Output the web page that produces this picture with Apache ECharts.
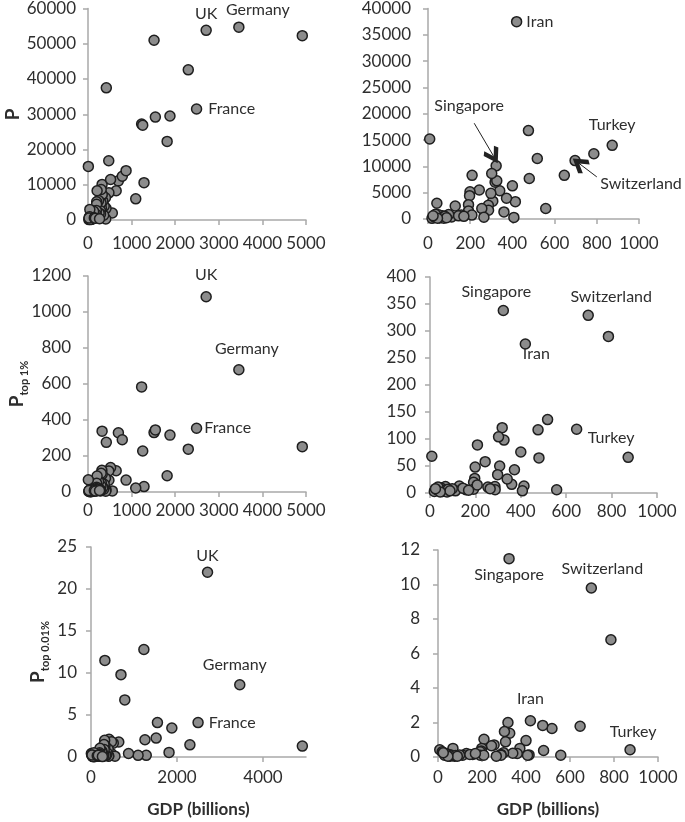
<!DOCTYPE html>
<html><head><meta charset="utf-8">
<script src="https://cdn.jsdelivr.net/npm/echarts@6/dist/echarts.min.js"></script>
<style>html,body{margin:0;padding:0;background:#fff}#c{width:685px;height:822px}</style>
</head><body><div id="c"></div>
<script>
// ---------------- data ----------------
const countryNames = ['UK','Germany','','France','','','','','','','','','',
  'Iran','Singapore','Switzerland','','Turkey','','','','','','','','','','','','','','','','','','','','','','','','','','','','','','','','','','','','','','','','','','','',''];
const gdpBillions = [2710,3460,4915,2490,2300,1815,1880,1515,1545,1230,1255,1285,1095,
  420,323,697,786,873,646,518,476,480,558,400,414,407,372,360,340,318,326,302,307,298,286,287,255,243,209,199,197,192,192,208,158,129,112,98,42,8,19,68,30,50,55,62,75,80,88,35,45,24,145,170,265];
const pTotal = [53800,54700,52300,31500,42600,22300,29500,51000,29200,27200,26900,10600,6000,
  37500,10100,11100,12400,14000,8300,11500,16800,7700,2000,6300,3300,300,3950,1350,5370,7000,7250,8650,3390,4870,2590,1670,1980,5500,8300,5180,4440,2720,1540,740,740,2460,370,860,3000,15200,120,600,400,800,200,350,150,500,250,900,150,600,600,500,350];
const pTop1 = [1085,679,252,354,238,90,316,330,345,584,228,30,22,
  276,338,329,290,66,118,136,117,65,6,76,13,4,43,16,26,121,98,104,50,34,12,6,11,58,89,48,27,20,7,15,6,13,4,8,10,68,3,12,6,9,3,5,2,7,4,11,2,8,9,5,8];
const pTop001 = [22.0,8.6,1.3,4.1,1.45,0.55,3.45,2.25,4.1,12.8,2.05,0.2,0.2,
  2.1,11.5,9.8,6.8,0.42,1.78,1.65,1.83,0.38,0.1,0.95,0.12,0.1,0.5,0.2,0.22,2.0,1.38,1.48,0.88,0.25,0.15,0.1,0.7,0.65,1.03,0.5,0.35,0.3,0.1,0.1,0.15,0.2,0.1,0.12,0.2,0.42,0.3,0.5,0.1,0.15,0.05,0.1,0.05,0.08,0.05,0.2,0.05,0.25,0.15,0.2,0.05];

const xTicksLeft = [0,1000,2000,3000,4000,5000];
const xTicksBottomLeft = [0,2000,4000];
const xTicksRight = [0,200,400,600,800,1000];

// arrows (data coordinates of panel: P vs GDP, zoomed)
const arrowSingapore = [[219,18200],[310,12000]];
const arrowSwitzerland = [[800,8000],[718,10500]];

// ---------------- styling ----------------
const FF = 'Lato, "Open Sans", sans-serif';
const TXT = '#2e2e2e';
const AX = '#a9a9a9';
const plain = v => String(v);

const labelCfg = [
  { UK:{position:'top',distance:3}, Germany:{position:'top',distance:4,offset:[19,0]}, France:{position:'right',distance:6} },
  { Iran:{position:'right',distance:4}, Singapore:{position:'inside',offset:[-27,-60]}, Turkey:{position:'top',distance:7}, Switzerland:{position:'inside',offset:[66,23]} },
  { UK:{position:'top',distance:8}, Germany:{position:'top',distance:7,offset:[8,0]}, France:{position:'right',distance:2} },
  { Singapore:{position:'top',distance:5,offset:[-7,0]}, Switzerland:{position:'top',distance:5,offset:[23,0]}, Iran:{position:'inside',offset:[11,10]}, Turkey:{position:'top',distance:6,offset:[-17,0]} },
  { UK:{position:'top',distance:3}, Germany:{position:'top',distance:6,offset:[-5,0]}, France:{position:'right',distance:5} },
  { Singapore:{position:'bottom',distance:2}, Switzerland:{position:'top',distance:5,offset:[11,0]}, Iran:{position:'top',distance:8}, Turkey:{position:'top',distance:4,offset:[3,0]} }
];

const grids = [
  {left:88, top:6, width:218, height:214},
  {left:428, top:3, width:211, height:216},
  {left:88, top:276, width:218, height:216},
  {left:430, top:277, width:227, height:216},
  {left:91, top:547, width:215, height:210},
  {left:438, top:550, width:220, height:207}
];

function xAxis(i, ticks, max, marginL, name) {
  return {
    type:'value', gridIndex:i, min:0, max:max,
    axisLine:{show:true, onZero:false, lineStyle:{color:AX, width:1.5}},
    axisTick:{show:true, length:5, customValues:ticks, lineStyle:{color:AX, width:1.5}},
    splitLine:{show:false},
    axisLabel:{customValues:ticks, formatter:plain, color:TXT, fontSize:17, fontFamily:FF, margin:marginL},
    name:name||'', nameLocation:'middle', nameGap:44, nameMoveOverlap:false,
    nameTextStyle:{color:TXT, fontSize:17, fontWeight:'bold', fontFamily:FF}
  };
}
function yAxis(i, max, interval, marginL, name, rich, gap) {
  return {
    type:'value', gridIndex:i, min:0, max:max, interval:interval,
    axisLine:{show:true, lineStyle:{color:AX, width:1.5}},
    axisTick:{show:true, length:5, lineStyle:{color:AX, width:1.5}},
    splitLine:{show:false},
    axisLabel:{formatter:plain, color:TXT, fontSize:17, fontFamily:FF, margin:marginL},
    name:name||'', nameLocation:'middle', nameRotate:90, nameGap:gap||60, nameMoveOverlap:false,
    nameTextStyle:{color:TXT, fontFamily:FF, fontWeight:'bold', rich:rich}
  };
}
const richName = {
  a:{fontSize:19, fontWeight:'bold', fontFamily:FF, color:TXT, lineHeight:26, verticalAlign:'middle'},
  b:{fontSize:11, fontWeight:'bold', fontFamily:FF, color:TXT, lineHeight:12, verticalAlign:'bottom'}
};

function buildData(panel, yVals, rightSide) {
  const out = [];
  for (let i = 0; i < gdpBillions.length; i++) {
    if (rightSide && gdpBillions[i] > 1000) continue;
    const item = { value:[gdpBillions[i], yVals[i]] };
    const nm = countryNames[i];
    const cfg = nm && labelCfg[panel][nm];
    if (cfg) {
      item.label = Object.assign({show:true, formatter:nm, color:TXT, fontSize:16, fontFamily:FF}, cfg);
    }
    out.push(item);
  }
  return out;
}

function scatter(i, yVals, right, extra) {
  return Object.assign({
    type:'scatter', xAxisIndex:i, yAxisIndex:i, symbolSize:10,
    itemStyle:{color:'#8c8c8c', borderColor:'#1e1e1e', borderWidth:1.5, opacity:1},
    label:{show:false},
    emphasis:{disabled:true},
    data:buildData(i, yVals, right)
  }, extra||{});
}

const chevron = 'path://M5,0 L10,7 L8.3,9 L5,4.2 L1.7,9 L0,7 Z';

const option = {
  animation:false,
  backgroundColor:'#ffffff',
  grid:grids,
  xAxis:[
    xAxis(0, xTicksLeft, 5000, 15),
    xAxis(1, xTicksRight, 1000, 16),
    xAxis(2, xTicksLeft, 5000, 10),
    xAxis(3, xTicksRight, 1000, 10),
    xAxis(4, xTicksBottomLeft, 5000, 12, 'GDP (billions)'),
    xAxis(5, xTicksRight, 1000, 12, 'GDP (billions)')
  ],
  yAxis:[
    yAxis(0, 60000, 10000, 12, '{a|P}', richName, 62),
    yAxis(1, 40000, 5000, 17),
    yAxis(2, 1200, 200, 17, '{a|P}{b|top 1%}', richName, 58),
    yAxis(3, 400, 50, 14),
    yAxis(4, 25, 5, 14, '{a|P}{b|top 0.01%}', richName, 40),
    yAxis(5, 12, 2, 18)
  ],
  series:[
    scatter(0, pTotal, false),
    scatter(1, pTotal, true, {
      markLine:{
        silent:true, symbol:['none', chevron], symbolSize:[17,17],
        lineStyle:{color:'#222', width:1, type:'solid'},
        label:{show:false},
        data:[
          [{coord:arrowSingapore[0]},{coord:arrowSingapore[1]}],
          [{coord:arrowSwitzerland[0]},{coord:arrowSwitzerland[1]}]
        ]
      }
    }),
    scatter(2, pTop1, false),
    scatter(3, pTop1, true),
    scatter(4, pTop001, false),
    scatter(5, pTop001, true)
  ]
};
const chart = echarts.init(document.getElementById('c'), null, {renderer:'canvas'});
chart.setOption(option);
</script></body></html>
